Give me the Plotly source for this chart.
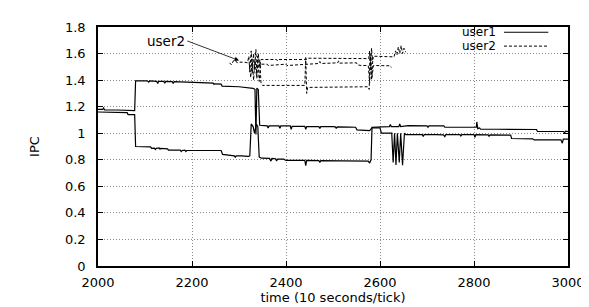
import plotly.graph_objects as go

# ---------------- data ----------------
x_ticks = [2000, 2200, 2400, 2600, 2800, 3000]
x_tick_labels = ["2000", "2200", "2400", "2600", "2800", "3000"]
y_ticks = [0, 0.2, 0.4, 0.6, 0.8, 1.0, 1.2, 1.4, 1.6, 1.8]
y_tick_labels = ["0", "0.2", "0.4", "0.6", "0.8", "1", "1.2", "1.4", "1.6", "1.8"]

# user1, first process (starts ~1.18, jumps to ~1.39)
user1_a_time = [2000, 2010, 2012, 2014, 2040, 2060, 2078, 2080, 2105, 2108, 2110, 2125,
                2127, 2129, 2140, 2142, 2144, 2158, 2160, 2162, 2200, 2235, 2245, 2247,
                2249, 2262, 2264, 2300, 2318, 2330, 2334, 2336, 2338, 2341, 2344, 2360,
                2362, 2364, 2385, 2387, 2389, 2409, 2411, 2413, 2440, 2442, 2444, 2470,
                2472, 2474, 2500, 2505, 2507, 2509, 2535, 2548, 2551, 2570, 2578, 2583,
                2600, 2603, 2625, 2628, 2631, 2634, 2637, 2641, 2644, 2648, 2652, 2655,
                2690, 2692, 2694, 2720, 2735, 2738, 2740, 2770, 2772, 2774, 2800, 2802,
                2804, 2830, 2832, 2834, 2870, 2878, 2880, 2910, 2925, 2928, 2935, 2960,
                2985, 2988, 2990, 3000]
user1_a_ipc = [1.18, 1.18, 1.19, 1.175, 1.175, 1.172, 1.17, 1.395, 1.395, 1.385, 1.395, 1.39,
               1.375, 1.39, 1.39, 1.377, 1.39, 1.388, 1.375, 1.388, 1.385, 1.38, 1.378, 1.368,
               1.372, 1.37, 1.355, 1.35, 1.345, 1.338, 1.33, 0.99, 1.34, 1.33, 1.06, 1.055,
               1.04, 1.055, 1.055, 1.038, 1.055, 1.055, 1.03, 1.052, 1.052, 1.03, 1.05, 1.05,
               1.035, 1.05, 1.05, 1.048, 1.035, 1.048, 1.046, 1.045, 1.025, 1.025, 1.02, 1.04,
               1.04, 1.0, 1.0, 0.78, 1.0, 0.76, 1.0, 0.78, 1.0, 0.76, 1.0, 0.99,
               0.99, 0.975, 0.99, 0.99, 0.988, 0.975, 0.99, 0.99, 0.98, 0.99, 0.99, 0.97,
               0.99, 0.988, 0.975, 0.988, 0.988, 0.986, 0.96, 0.96, 0.958, 0.95, 0.95, 0.952,
               0.95, 0.925, 0.955, 0.955]

# user1, second process (starts ~1.16, drops to ~0.9)
user1_b_time = [2000, 2020, 2040, 2062, 2064, 2078, 2080, 2112, 2114, 2120, 2122, 2124,
                2130, 2132, 2134, 2148, 2150, 2175, 2177, 2179, 2185, 2187, 2189, 2230,
                2262, 2265, 2280, 2283, 2290, 2292, 2294, 2305, 2320, 2323, 2326, 2330,
                2333, 2337, 2340, 2343, 2348, 2365, 2368, 2370, 2378, 2380, 2382, 2395,
                2400, 2440, 2442, 2444, 2470, 2472, 2474, 2520, 2575, 2578, 2581, 2583,
                2605, 2620, 2622, 2624, 2640, 2642, 2644, 2660, 2700, 2702, 2704, 2736,
                2738, 2790, 2805, 2806, 2808, 2812, 2814, 2850, 2880, 2933, 2935, 2990,
                2993, 2995, 3000]
user1_b_ipc = [1.16, 1.16, 1.158, 1.155, 1.14, 1.14, 0.9, 0.897, 0.886, 0.888, 0.878, 0.886,
               0.89, 0.88, 0.886, 0.882, 0.872, 0.872, 0.862, 0.87, 0.872, 0.862, 0.87, 0.87,
               0.87, 0.84, 0.835, 0.83, 0.83, 0.82, 0.83, 0.83, 0.825, 0.83, 1.07, 1.05,
               1.0, 1.07, 1.05, 0.82, 0.812, 0.81, 0.79, 0.81, 0.808, 0.79, 0.805, 0.805,
               0.795, 0.795, 0.755, 0.795, 0.793, 0.78, 0.793, 0.792, 0.79, 0.775, 0.8, 1.045,
               1.048, 1.05, 1.065, 1.05, 1.05, 1.07, 1.05, 1.057, 1.055, 1.045, 1.055, 1.055,
               1.045, 1.045, 1.045, 1.085, 1.035, 1.04, 1.03, 1.03, 1.03, 1.028, 1.013, 1.013,
               1.005, 1.015, 1.013]

# user2, three processes (dashed)
user2_a_time = [2280, 2284, 2288, 2292, 2296, 2300, 2312, 2318, 2321, 2323, 2326, 2328,
                2331, 2333, 2336, 2338, 2341, 2344, 2347, 2380, 2382, 2384, 2420, 2444,
                2446, 2500, 2540, 2576, 2578, 2580, 2582, 2584, 2586, 2625, 2630, 2633,
                2636, 2639, 2642, 2645, 2648, 2651, 2655]
user2_a_ipc = [1.53, 1.515, 1.545, 1.55, 1.53, 1.535, 1.535, 1.53, 1.58, 1.46, 1.62, 1.45,
               1.6, 1.48, 1.63, 1.41, 1.6, 1.5, 1.555, 1.555, 1.545, 1.555, 1.555, 1.556,
               1.565, 1.565, 1.563, 1.562, 1.62, 1.48, 1.64, 1.55, 1.58, 1.58, 1.575, 1.62,
               1.59, 1.65, 1.6, 1.66, 1.6, 1.64, 1.61]

user2_b_time = [2322, 2325, 2328, 2331, 2334, 2337, 2340, 2343, 2346, 2360, 2362, 2380,
                2400, 2402, 2430, 2444, 2470, 2472, 2474, 2510, 2512, 2514, 2550, 2552,
                2560, 2575, 2578, 2580, 2583, 2586, 2622, 2624]
user2_b_ipc = [1.52, 1.42, 1.56, 1.4, 1.55, 1.44, 1.58, 1.39, 1.52, 1.52, 1.51, 1.515,
               1.52, 1.51, 1.515, 1.52, 1.525, 1.54, 1.525, 1.53, 1.545, 1.528, 1.53, 1.515,
               1.51, 1.51, 1.38, 1.58, 1.42, 1.51, 1.508, 1.495]

user2_c_time = [2344, 2347, 2350, 2380, 2382, 2400, 2420, 2440, 2442, 2444, 2446, 2470,
                2500, 2520, 2540, 2560, 2575, 2577, 2579, 2582, 2585]
user2_c_ipc = [1.55, 1.37, 1.36, 1.36, 1.355, 1.358, 1.36, 1.36, 1.57, 1.30, 1.345, 1.345,
               1.35, 1.35, 1.345, 1.35, 1.35, 1.33, 1.6, 1.40, 1.57]

series_names = ["user1", "user2"]

# ---------------- figure ----------------
FONT = "DejaVu Sans"
W, H = 589, 307
ML, MR, MT, MB = 90, 22, 18, 39

fig = go.Figure()
solid = dict(color="black", width=1.2)
dashed = dict(color="black", width=1, dash="3px,2px")

fig.add_trace(go.Scatter(x=user1_a_time, y=user1_a_ipc, mode="lines", line=solid,
                         name=series_names[0], showlegend=False))
fig.add_trace(go.Scatter(x=user1_b_time, y=user1_b_ipc, mode="lines", line=solid,
                         name=series_names[0], showlegend=False))
fig.add_trace(go.Scatter(x=user2_a_time, y=user2_a_ipc, mode="lines", line=dashed,
                         name=series_names[1], showlegend=False))
fig.add_trace(go.Scatter(x=user2_b_time, y=user2_b_ipc, mode="lines", line=dashed,
                         name=series_names[1], showlegend=False))
fig.add_trace(go.Scatter(x=user2_c_time, y=user2_c_ipc, mode="lines", line=dashed,
                         name=series_names[1], showlegend=False))

pw, ph = W - ML - MR, H - MT - MB


def px_to_paper(px, py):
    return (px - ML) / pw, (H - MB - py) / ph


# key (gnuplot style, inside top-right)
key_rows = [(series_names[0], 23.5, None), (series_names[1], 38.0, "3px,2px")]
for name, py, dash in key_rows:
    tx, ty = px_to_paper(496, py)
    fig.add_annotation(x=tx, y=ty, xref="paper", yref="paper", text=name,
                       showarrow=False, xanchor="right", yanchor="middle",
                       font=dict(family=FONT, size=12, color="black"))
    x0, y0 = px_to_paper(502, py)
    x1, _ = px_to_paper(547, py)
    fig.add_shape(type="line", xref="paper", yref="paper", x0=x0, x1=x1, y0=y0, y1=y0,
                  line=dict(color="black", width=1 if dash else 1.2, dash=dash or "solid"))

# "user2" label with arrow
fig.add_annotation(x=2300, y=1.548, ax=2190, ay=1.695, axref="x", ayref="y",
                   text=series_names[1], showarrow=True, xanchor="right", yanchor="middle",
                   arrowhead=2, arrowsize=1.1, arrowwidth=0.8, arrowcolor="black",
                   font=dict(family=FONT, size=13.5, color="black"))

axis_common = dict(
    showline=True, linecolor="black", linewidth=1.5, mirror="ticks",
    ticks="inside", ticklen=5, tickcolor="black", tickwidth=1,
    showgrid=True, gridcolor="#8a8a8a", gridwidth=1, griddash="1px,2px",
    zeroline=False, tickfont=dict(family=FONT, size=13, color="black"),
)

fig.update_xaxes(range=[2000, 3000], tickvals=x_ticks, ticktext=x_tick_labels,
                 ticklabelstandoff=4,
                 title=dict(text="time (10 seconds/tick)", standoff=4,
                            font=dict(family=FONT, size=13, color="black")),
                 **axis_common)
fig.update_yaxes(range=[0, 1.8], tickvals=y_ticks, ticktext=y_tick_labels,
                 ticklabelstandoff=8,
                 title=dict(text="IPC", standoff=22,
                            font=dict(family=FONT, size=13, color="black")),
                 **axis_common)

fig.update_layout(width=W, height=H, margin=dict(l=ML, r=MR, t=MT, b=MB, pad=0),
                  plot_bgcolor="white", paper_bgcolor="white", showlegend=False,
                  font=dict(family=FONT, size=13, color="black"))

fig.write_html("out.html")
